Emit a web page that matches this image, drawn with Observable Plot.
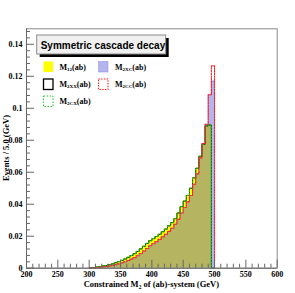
<!DOCTYPE html>
<html><head><meta charset="utf-8">
<script src="https://cdn.jsdelivr.net/npm/d3@7"></script>
<script src="https://cdn.jsdelivr.net/npm/@observablehq/plot@0.6"></script>
<style>body{margin:0;background:#fff}</style>
</head><body><div id="chart"></div>
<script>
const binStart = [300,305,310,315,320,325,330,335,340,345,350,355,360,365,370,375,380,385,390,395,400,405,410,415,420,425,430,435,440,445,450,455,460,465,470,475,480,485,490,495];
const binWidth = 5;
const m12  = [0.0002,0.0004,0.0007,0.0010,0.0014,0.0017,0.0022,0.0027,0.0034,0.0041,0.0049,0.0058,0.0068,0.0079,0.0091,0.0105,0.0121,0.0137,0.0155,0.0172,0.0185,0.0198,0.0212,0.0228,0.0245,0.0265,0.0285,0.0310,0.0345,0.0385,0.0420,0.0455,0.0500,0.0565,0.0625,0.0700,0.0775,0.0890,0.0895,0];
const m2xx = [0.0002,0.0004,0.0007,0.0010,0.0014,0.0017,0.0022,0.0027,0.0034,0.0041,0.0049,0.0058,0.0068,0.0079,0.0091,0.0105,0.0121,0.0137,0.0155,0.0172,0.0185,0.0198,0.0212,0.0228,0.0245,0.0265,0.0285,0.0310,0.0345,0.0385,0.0420,0.0455,0.0500,0.0565,0.0625,0.0700,0.0775,0.0890,0.0895,0];
const m2cx = [0.0002,0.0004,0.0007,0.0010,0.0014,0.0017,0.0022,0.0027,0.0034,0.0041,0.0049,0.0058,0.0068,0.0079,0.0091,0.0105,0.0121,0.0137,0.0155,0.0172,0.0185,0.0198,0.0212,0.0228,0.0245,0.0265,0.0285,0.0310,0.0345,0.0385,0.0420,0.0455,0.0500,0.0565,0.0625,0.0700,0.0775,0.0890,0.0895,0];
const m2xc = [0.0001,0.0002,0.0004,0.0006,0.0008,0.0011,0.0014,0.0018,0.0022,0.0027,0.0033,0.0040,0.0048,0.0057,0.0066,0.0078,0.0092,0.0107,0.0123,0.0140,0.0153,0.0166,0.0180,0.0196,0.0212,0.0230,0.0250,0.0275,0.0305,0.0345,0.0380,0.0415,0.0455,0.0525,0.0590,0.0690,0.0780,0.0900,0.1085,0.1170];
const m2cc = [0.0001,0.0002,0.0004,0.0006,0.0008,0.0011,0.0014,0.0018,0.0022,0.0027,0.0033,0.0040,0.0048,0.0057,0.0066,0.0078,0.0092,0.0107,0.0123,0.0140,0.0153,0.0166,0.0180,0.0196,0.0212,0.0230,0.0250,0.0275,0.0305,0.0345,0.0380,0.0415,0.0455,0.0525,0.0590,0.0690,0.0780,0.0900,0.1085,0.1265];

const xTickValues = [200,250,300,350,400,450,500,550,600];
const xTickLabels = ["200","250","300","350","400","450","500","550","600"];
const yTickValues = [0,0.02,0.04,0.06,0.08,0.1,0.12,0.14];
const yTickLabels = ["0","0.02","0.04","0.06","0.08","0.1","0.12","0.14"];
const xMinorValues = d3.range(200, 601, 10).filter(v => v % 50 !== 0);
const yMinorValues = d3.range(0, 0.149, 0.004).filter((v,i) => i % 5 !== 0);

const titleText = "Symmetric cascade decay";
const xTitleParts = ["Constrained M", "2", " of (ab)-system (GeV)"];
const yTitleText = "Events / 5.0 (GeV)";
const legendKeys = ["m12","m2xc","m2xx","m2cc","m2cx"];
const legendSubs = ["12","2XC","2XX","2CC","2CX"];

const W = 295, H = 293;
const mL = 26, mR = 18.3, mT = 28.3, mB = 25.3;
const xDom = [200, 600], yDom = [0, 0.1497];
const pxX = (W - mL - mR) / (xDom[1] - xDom[0]);
const pxY = (H - mT - mB) / (yDom[1] - yDom[0]);

function steps(vals) {
  const pts = [{x: binStart[0], y: 0}];
  binStart.forEach((b, i) => pts.push({x: b, y: vals[i]}));
  const end = binStart[binStart.length - 1] + binWidth;
  pts.push({x: end, y: vals[vals.length - 1]});
  pts.push({x: end, y: 0});
  return pts;
}

const serif = "Liberation Serif, Times New Roman, serif";
const tickColor = "#666";
const hatchBlue = "#5a5ad8";

const plot = Plot.plot({
  width: W, height: H,
  marginLeft: mL, marginRight: mR, marginTop: mT, marginBottom: mB,
  x: {domain: xDom, axis: null},
  y: {domain: yDom, axis: null},
  style: {background: "white", overflow: "visible"},
  marks: [
    Plot.areaY(steps(m12), {x: "x", y: "y", curve: "step-after", fill: "#ffff00"}),
    Plot.areaY(steps(m2xc), {x: "x", y: "y", curve: "step-after", fill: hatchBlue, fillOpacity: 0.45}),
    Plot.line(steps(m2xc), {x: "x", y: "y", curve: "step-after", stroke: "#8888ee", strokeWidth: 0.6}),
    Plot.line(steps(m2xx), {x: "x", y: "y", curve: "step-after", stroke: "#000", strokeWidth: 1}),
    Plot.line(steps(m2cx), {x: "x", y: "y", curve: "step-after", stroke: "#22cc22", strokeWidth: 1, strokeDasharray: "1.5,1.5"}),
    Plot.line(steps(m2cc), {x: "x", y: "y", curve: "step-after", stroke: "#ff2020", strokeWidth: 1.1, strokeDasharray: "1.5,1.2"}),
    Plot.frame({stroke: "#8a8a8a", strokeWidth: 1}),
    Plot.ruleX([xDom[0]], {stroke: "#666"}),
    Plot.ruleY([0], {stroke: "#666"}),
    Plot.ruleY(yTickValues, {y: d => d, x1: xDom[0], x2: xDom[0] + 8 / pxX, stroke: tickColor}),
    Plot.ruleY(yMinorValues, {y: d => d, x1: xDom[0], x2: xDom[0] + 4 / pxX, stroke: tickColor}),
    Plot.ruleX(xTickValues, {x: d => d, y1: 0, y2: 8 / pxY, stroke: tickColor}),
    Plot.ruleX(xMinorValues, {x: d => d, y1: 0, y2: 4 / pxY, stroke: tickColor}),
    Plot.text(yTickValues, {x: xDom[0], y: d => d, text: (d, i) => yTickLabels[i], textAnchor: "end", dx: -4, fontSize: 8, fontWeight: "bold", fontFamily: serif, fill: "#000"}),
    Plot.text(xTickValues, {x: d => d, y: 0, text: (d, i) => xTickLabels[i], dy: 6, fontSize: 8, fontWeight: "bold", fontFamily: serif, fill: "#000"})
  ]
});

const svg = d3.select(plot);
const xs = plot.scale("x"), ys = plot.scale("y");
// axis titles
const xt = svg.append("text").attr("x", (xs.apply(xDom[0]) + xs.apply(xDom[1])) / 2).attr("y", 287)
  .attr("text-anchor", "middle").attr("font-family", serif).attr("font-weight", "bold").attr("font-size", 8.5);
xt.append("tspan").text(xTitleParts[0]);
xt.append("tspan").attr("font-size", 5.5).attr("dy", 2).text(xTitleParts[1]);
xt.append("tspan").attr("dy", -2).text(xTitleParts[2]);
const yc = (ys.apply(yDom[0]) + ys.apply(yDom[1])) / 2;
svg.append("text").attr("transform", `translate(8.5,${yc}) rotate(-90)`).attr("text-anchor", "middle")
  .attr("font-family", serif).attr("font-weight", "bold").attr("font-size", 8.5).text(yTitleText);

// title box
const g = svg.append("g").attr("text-anchor", "start");
g.append("rect").attr("x", 39.7).attr("y", 38).attr("width", 129).attr("height", 19).attr("fill", "#000");
g.append("rect").attr("x", 36.7).attr("y", 35).attr("width", 129).attr("height", 19).attr("fill", "#f0f0f0").attr("stroke", "#8a8a8a");
g.append("text").attr("x", 40.7).attr("y", 48.5).attr("text-anchor", "start").attr("font-family", "Liberation Sans, Arial, sans-serif")
  .attr("font-weight", "bold").attr("font-size", 10).text(titleText);

// legend
const styles = {
  m12: {fill: "#ffff00", stroke: "none"},
  m2xc: {fill: hatchBlue, fo: 0.45, stroke: "#8888ee", sw: 0.5},
  m2xx: {fill: "none", stroke: "#000", sw: 1.3},
  m2cc: {fill: "none", stroke: "#ff2020", sw: 1.1, dash: "1.5,1.2"},
  m2cx: {fill: "none", stroke: "#22cc22", sw: 1, dash: "1.5,1.5"}
};
const pos = [[43.5, 61.5, 59.5, 69.5], [98.5, 61.5, 115, 69.5], [43.5, 79, 59.5, 86.5], [98.5, 79, 115, 86.5], [43.5, 96, 59.5, 103.5]];
legendKeys.forEach((k, i) => {
  const s = styles[k], p = pos[i];
  const r = g.append("rect").attr("x", p[0]).attr("y", p[1]).attr("width", 9.5).attr("height", 10.5)
    .attr("fill", s.fill).attr("stroke", s.stroke);
  if (s.fo) r.attr("fill-opacity", s.fo);
  if (s.sw) r.attr("stroke-width", s.sw);
  if (s.dash) r.attr("stroke-dasharray", s.dash);
  const t = g.append("text").attr("x", p[2]).attr("y", p[3]).attr("text-anchor", "start").attr("font-family", serif).attr("font-weight", "bold").attr("font-size", 8);
  t.append("tspan").text("M");
  t.append("tspan").attr("font-size", 5).attr("dy", 1.5).text(legendSubs[i]);
  t.append("tspan").attr("dy", -1.5).text("(ab)");
});

document.getElementById("chart").appendChild(plot);
</script>
</body></html>
